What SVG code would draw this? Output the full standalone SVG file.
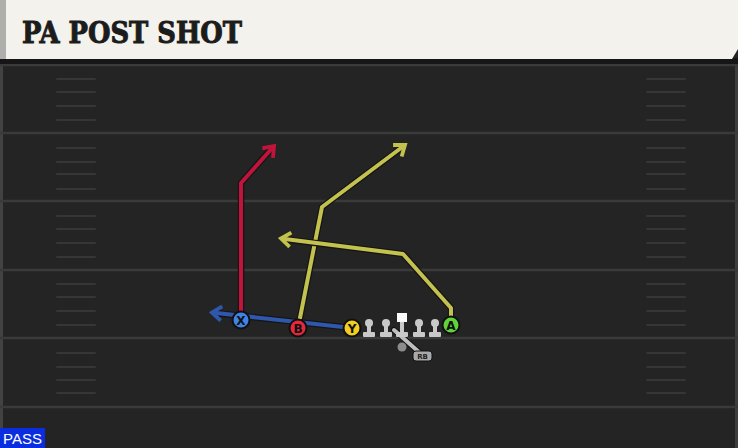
<svg xmlns="http://www.w3.org/2000/svg" width="738" height="448" viewBox="0 0 738 448">
<defs>
<style>
.yl{stroke:#3a3a3a;stroke-width:2.5}
.hm{stroke:#363636;stroke-width:2;stroke-linecap:round}
.rt{fill:none;stroke-width:4;stroke-linejoin:round}
.ol{fill:none;stroke:#151515;stroke-width:6.5;stroke-linejoin:round}
.pl{stroke:#111;stroke-width:2}
.pt{font-family:"DejaVu Sans",sans-serif;font-weight:bold;font-size:12px;fill:#111;text-anchor:middle}
.ln{fill:#c9c9c9}
</style>
<marker id="ar" markerWidth="20" markerHeight="20" refX="0" refY="0" viewBox="-12 -10 16 20" orient="auto" markerUnits="userSpaceOnUse"><path d="M-8,-6 L0,0 L-8,6" fill="none" stroke="#c0143c" stroke-width="3.8" stroke-linecap="square"/></marker>
<marker id="ay" markerWidth="20" markerHeight="20" refX="0" refY="0" viewBox="-12 -10 16 20" orient="auto" markerUnits="userSpaceOnUse"><path d="M-8,-6 L0,0 L-8,6" fill="none" stroke="#c3c24e" stroke-width="3.8" stroke-linecap="square"/></marker>
<marker id="ab" markerWidth="20" markerHeight="20" refX="0" refY="0" viewBox="-12 -10 16 20" orient="auto" markerUnits="userSpaceOnUse"><path d="M-8,-6 L0,0 L-8,6" fill="none" stroke="#2f57ab" stroke-width="3.8" stroke-linecap="square"/></marker>
</defs>
<rect width="738" height="448" fill="#242424"/>
<g id="field">
<line x1="1.5" y1="63" x2="1.5" y2="448" stroke="#424242" stroke-width="3"/>
<line x1="736.5" y1="63" x2="736.5" y2="448" stroke="#3e3e3e" stroke-width="3"/>
<line class="yl" x1="0" y1="65" x2="738" y2="65"/>
<line class="yl" x1="0" y1="133" x2="738" y2="133"/>
<line class="yl" x1="0" y1="201" x2="738" y2="201"/>
<line class="yl" x1="0" y1="270" x2="738" y2="270"/>
<line class="yl" x1="0" y1="338" x2="738" y2="338"/>
<line class="yl" x1="0" y1="407" x2="738" y2="407"/>
<g id="hash-left">
<line class="hm" x1="57" y1="79" x2="95" y2="79"/><line class="hm" x1="57" y1="92" x2="95" y2="92"/><line class="hm" x1="57" y1="106" x2="95" y2="106"/><line class="hm" x1="57" y1="120" x2="95" y2="120"/>
<line class="hm" x1="57" y1="148" x2="95" y2="148"/><line class="hm" x1="57" y1="162" x2="95" y2="162"/><line class="hm" x1="57" y1="174" x2="95" y2="174"/><line class="hm" x1="57" y1="189" x2="95" y2="189"/>
<line class="hm" x1="57" y1="216" x2="95" y2="216"/><line class="hm" x1="57" y1="229" x2="95" y2="229"/><line class="hm" x1="57" y1="243" x2="95" y2="243"/><line class="hm" x1="57" y1="257" x2="95" y2="257"/>
<line class="hm" x1="57" y1="284" x2="95" y2="284"/><line class="hm" x1="57" y1="297" x2="95" y2="297"/><line class="hm" x1="57" y1="311" x2="95" y2="311"/><line class="hm" x1="57" y1="325" x2="95" y2="325"/>
<line class="hm" x1="57" y1="353" x2="95" y2="353"/><line class="hm" x1="57" y1="367" x2="95" y2="367"/><line class="hm" x1="57" y1="380" x2="95" y2="380"/><line class="hm" x1="57" y1="393" x2="95" y2="393"/>
</g>
<g id="hash-right">
<line class="hm" x1="647" y1="79" x2="685" y2="79"/><line class="hm" x1="647" y1="92" x2="685" y2="92"/><line class="hm" x1="647" y1="106" x2="685" y2="106"/><line class="hm" x1="647" y1="120" x2="685" y2="120"/>
<line class="hm" x1="647" y1="148" x2="685" y2="148"/><line class="hm" x1="647" y1="162" x2="685" y2="162"/><line class="hm" x1="647" y1="174" x2="685" y2="174"/><line class="hm" x1="647" y1="189" x2="685" y2="189"/>
<line class="hm" x1="647" y1="216" x2="685" y2="216"/><line class="hm" x1="647" y1="229" x2="685" y2="229"/><line class="hm" x1="647" y1="243" x2="685" y2="243"/><line class="hm" x1="647" y1="257" x2="685" y2="257"/>
<line class="hm" x1="647" y1="284" x2="685" y2="284"/><line class="hm" x1="647" y1="297" x2="685" y2="297"/><line class="hm" x1="647" y1="311" x2="685" y2="311"/><line class="hm" x1="647" y1="325" x2="685" y2="325"/>
<line class="hm" x1="647" y1="353" x2="685" y2="353"/><line class="hm" x1="647" y1="367" x2="685" y2="367"/><line class="hm" x1="647" y1="380" x2="685" y2="380"/><line class="hm" x1="647" y1="393" x2="685" y2="393"/>
</g>
</g>
<g id="header">
<rect x="0" y="58" width="738" height="6" fill="#161616"/>
<path d="M6,0 H738 V49 L732,59 H6 Z" fill="#f4f2ec"/>
<rect x="0" y="0" width="6" height="59" fill="#aeaeac"/>
<text x="22" y="43" font-family="'DejaVu Serif',serif" font-weight="bold" font-size="30" fill="#1c1c1c" stroke="#1c1c1c" stroke-width="1" textLength="220" lengthAdjust="spacingAndGlyphs">PA POST SHOT</text>
</g>
<g id="connectors">
<path class="ol" d="M241,320 L241,183 L273,147"/>
<path class="rt" stroke="#c0143c" d="M241,320 L241,183 L274,146" marker-end="url(#ar)"/>
<path class="ol" d="M298,328 L322,207 L404,146"/>
<path class="rt" stroke="#c3c24e" d="M298,328 L322,207 L405,145" marker-end="url(#ay)"/>
<path class="ol" d="M451,325 L451,308 L403,254 L283,239"/>
<path class="rt" stroke="#c3c24e" d="M451,325 L451,308 L403,254 L281,238.5" marker-end="url(#ay)"/>
<path class="ol" d="M352,328 L214,313"/>
<path class="rt" stroke="#2f57ab" d="M352,328 L212,312.5" marker-end="url(#ab)"/>
</g>
<g id="rb">
<line x1="394" y1="330" x2="420" y2="353" stroke="#111" stroke-width="6" stroke-linecap="round"/>
<line x1="394" y1="330" x2="420" y2="353" stroke="#bdbdbd" stroke-width="4" stroke-linecap="round"/>
<circle cx="402" cy="347" r="4.5" fill="#8c8c8c"/>
<rect x="413" y="351" width="19" height="10" rx="3" fill="#a9a9a9" stroke="#111" stroke-width="1"/>
<text x="422.5" y="359" font-family="'DejaVu Sans',sans-serif" font-weight="bold" font-size="7" fill="#222" text-anchor="middle">RB</text>
</g>
<g id="line">
<g id="lt"><circle class="ln" cx="369" cy="323" r="4"/><rect class="ln" x="367" y="323" width="4" height="11"/><rect class="ln" x="363" y="332" width="12" height="5" rx="1"/></g>
<g id="lg"><circle class="ln" cx="386" cy="323" r="4"/><rect class="ln" x="384" y="323" width="4" height="11"/><rect class="ln" x="380" y="332" width="12" height="5" rx="1"/></g>
<g id="c"><rect x="397" y="313" width="10" height="9" fill="#fafafa"/><rect class="ln" x="400" y="322" width="4" height="12"/><rect class="ln" x="396" y="332" width="12" height="5" rx="1"/></g>
<g id="rg"><circle class="ln" cx="419" cy="323" r="4"/><rect class="ln" x="417" y="323" width="4" height="11"/><rect class="ln" x="413" y="332" width="12" height="5" rx="1"/></g>
<g id="rt"><circle class="ln" cx="435" cy="323" r="4"/><rect class="ln" x="433" y="323" width="4" height="11"/><rect class="ln" x="429" y="332" width="12" height="5" rx="1"/></g>
</g>
<g id="X"><circle class="pl" cx="241" cy="320" r="8.5" fill="#3f83e6"/><text class="pt" x="241" y="324.5">X</text></g>
<g id="B"><circle class="pl" cx="298" cy="328" r="8.5" fill="#e5283c"/><text class="pt" x="298" y="332.5">B</text></g>
<g id="Y"><circle class="pl" cx="352" cy="328" r="8.5" fill="#f3cd1f"/><text class="pt" x="352" y="332.5">Y</text></g>
<g id="A"><circle class="pl" cx="451" cy="325" r="8.5" fill="#5fd33a"/><text class="pt" x="451" y="329.5">A</text></g>
<g id="pass">
<rect x="0" y="428" width="45" height="20" fill="#0b2de0"/>
<text x="22.5" y="444" font-family="'Liberation Sans',sans-serif" font-size="15" fill="#ffffff" text-anchor="middle">PASS</text>
</g>
</svg>
